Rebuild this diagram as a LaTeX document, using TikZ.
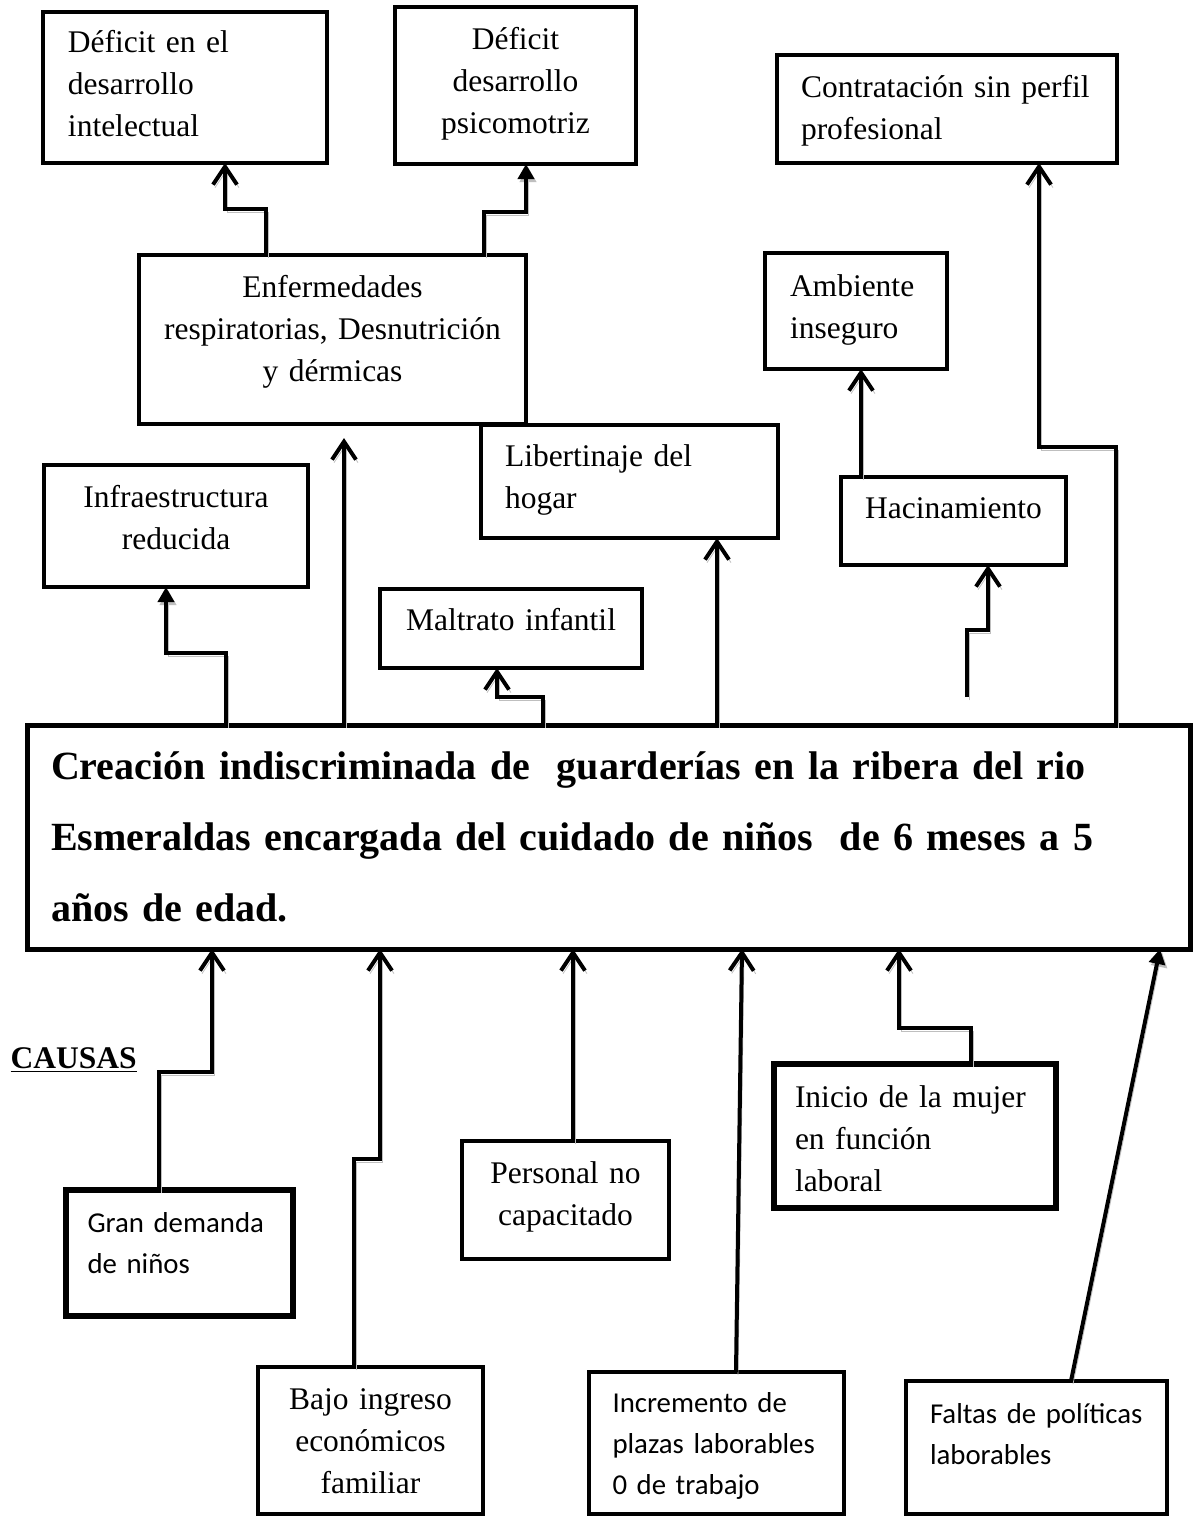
\documentclass[tikz,border=0pt]{standalone}
\usepackage{fontspec}
\setmainfont{Liberation Serif}
\newfontfamily\calibri{Carlito}
\usetikzlibrary{arrows.meta, calc}

\newcommand\textotnr{\fontsize{15.75}{21}\selectfont}
\newcommand\textocal{\calibri\fontsize{14.4}{20.5}\selectfont}
\newcommand\textoprob{\bfseries\fontsize{20}{35.5}\selectfont}

\tikzset{
    caja/.style={draw, line width=2pt, outer sep=0pt, inner ysep=0pt, anchor=north west, font=\textotnr, align=left},
    cajaC/.style={caja, font=\textocal},
    medidas/.style n args={4}{text width=#1, inner xsep=#2, text height=#3, text depth=#4},
    flecha/.style={line width=2pt, -{Straight Barb[length=9pt, width=12pt]}, preaction={draw=gray!50, transform canvas={shift={(1pt,-1.5pt)}}}},
    flechaT/.style={flecha, -{Triangle[length=7.5pt, width=8pt]}},
}

\begin{document}
\begin{tikzpicture}[x=0.5pt, y=-0.5pt]
\path[use as bounding box, fill=white] (0,0) rectangle (1194,1517);

% efectos
\node[caja, medidas={117pt}{12.5pt}{20pt}{55.5pt}] (defint) at (43,12) {Déficit en el\\desarrollo\\intelectual};
\node[caja, align=center, medidas={108.5pt}{6pt}{21pt}{57.5pt}] (defpsi) at (395,7) {Déficit\\desarrollo\\psicomotriz};
\node[caja, medidas={146pt}{12pt}{21pt}{33pt}] (contrat) at (777,55) {Contratación sin perfil\\profesional};
\node[caja, align=center, medidas={181.5pt}{6pt}{21pt}{63.5pt}] (enferm) at (139,255) {Enfermedades\\respiratorias, Desnutrición\\y dérmicas};
\node[caja, medidas={66pt}{12.5pt}{21.5pt}{36.5pt}] (ambiente) at (765,253) {Ambiente\\inseguro};
\node[caja, medidas={124.5pt}{12pt}{20.5pt}{36pt}] (libert) at (481,425) {Libertinaje del\\hogar};
\node[caja, align=center, medidas={100.5pt}{6pt}{20.5pt}{23.5pt}] (hacina) at (841,477) {Hacinamiento};
\node[caja, align=center, medidas={120pt}{6pt}{21pt}{40pt}] (infra) at (44,465) {Infraestructura\\reducida};
\node[caja, align=center, medidas={119pt}{6pt}{20.5pt}{19pt}] (maltrato) at (380,589) {Maltrato infantil};

% problema
\node[caja, line width=2.5pt, font=\textoprob, medidas={557.5pt}{12pt}{27pt}{85pt}] (problema) at (27,725)
    {Creación indiscriminada de~ guarderías en la ribera del rio\\Esmeraldas encargada del cuidado de niños~ de 6 meses a 5\\años de edad.};

% causas
\node[font=\textotnr\bfseries, inner sep=0pt, anchor=base east] (causas) at (137,1068) {\underline{CAUSAS}};
\node[cajaC, line width=2.6pt, medidas={92pt}{10.75pt}{21pt}{42pt}] (demanda) at (66,1190) {Gran demanda\\de niños};
\node[caja, line width=2.4pt, align=center, medidas={91.5pt}{6pt}{21pt}{38pt}] (personal) at (462,1141) {Personal no\\capacitado};
\node[caja, line width=2.6pt, medidas={120pt}{10.5pt}{21.5pt}{50.5pt}] (mujer) at (774,1064) {Inicio de la mujer\\en función\\laboral};
\node[caja, line width=2.4pt, align=center, medidas={100.5pt}{6pt}{21pt}{52.5pt}] (ingreso) at (258,1367) {Bajo ingreso\\económicos\\familiar};
\node[cajaC, line width=2.4pt, medidas={104pt}{11.75pt}{20pt}{51pt}] (plazas) at (589,1372) {Incremento de\\plazas laborables\\0 de trabajo};
\node[cajaC, line width=2.4pt, medidas={106.5pt}{12pt}{21pt}{45.5pt}] (politicas) at (906,1381) {Faltas de políticas\\laborables};

% flechas hacia arriba
\draw[flecha] (266,0 |- enferm.north) |- (225,209) -- (225,0 |- defint.south);
\draw[flechaT] (484,0 |- enferm.north) |- (526,212) -- (526,0 |- defpsi.south);
\draw[flechaT] (226,0 |- problema.north) |- (166,653) -- (166,0 |- infra.south);
\draw[flecha, shorten >=7pt] (344,0 |- problema.north) -- (344,0 |- enferm.south);
\draw[flecha] (543,0 |- problema.north) |- (497,697) -- (497,0 |- maltrato.south);
\draw[flecha] (717,0 |- problema.north) -- (717,0 |- libert.south);
\coordinate (suelto) at (967,697);
\draw[flecha] (suelto) |- (988,630) -- (988,0 |- hacina.south);
\draw[flecha] (861,0 |- hacina.north) -- (861,0 |- ambiente.south);
\draw[flecha] (1116,0 |- problema.north) |- (1039,447) -- (1039,0 |- contrat.south);

% flechas de las causas
\draw[flecha] (159,0 |- demanda.north) |- (212,1072) -- (212,0 |- problema.south);
\draw[flecha] (354,0 |- ingreso.north) |- (380,1159) -- (380,0 |- problema.south);
\draw[flecha] (573,0 |- personal.north) -- (573,0 |- problema.south);
\draw[flecha] (736,0 |- plazas.north) -- (742,0 |- problema.south);
\draw[flecha] (971,0 |- mujer.north) |- (899,1028) -- (899,0 |- problema.south);
\draw[flechaT] (1071,0 |- politicas.north) -- (1160,0 |- problema.south);
\end{tikzpicture}
\end{document}
